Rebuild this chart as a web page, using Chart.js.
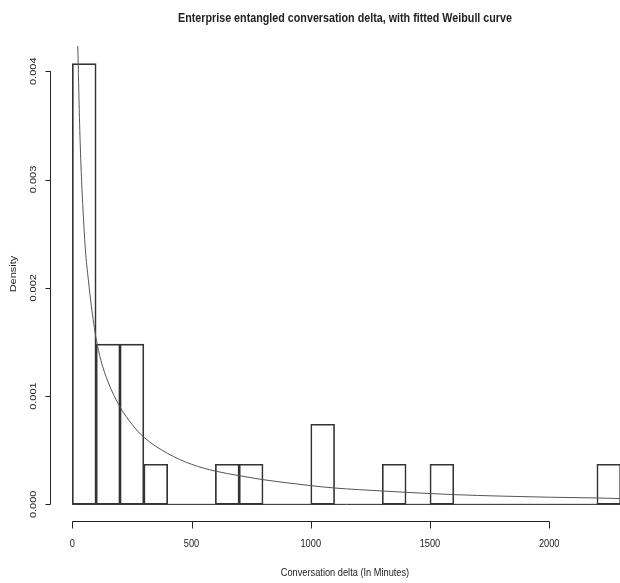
<!DOCTYPE html>
<html>
<head>
<meta charset="utf-8">
<script src="https://cdn.jsdelivr.net/npm/chart.js@4"></script>
<style>
  html, body { margin: 0; padding: 0; background: #fff; }
  canvas { display: block; }
</style>
</head>
<body>
<canvas id="histChart" width="620" height="583"></canvas>
<script>
// Histogram bins (minutes) and densities
const binEdges = [0, 100, 200, 300, 400, 500, 600, 700, 800, 900, 1000, 1100,
                  1200, 1300, 1400, 1500, 1600, 1700, 1800, 1900, 2000, 2100, 2200, 2300];
const densities = [0.00407, 0.00148, 0.00148, 0.00037, 0, 0, 0.00037, 0.00037, 0, 0,
                   0.00074, 0, 0, 0.00037, 0, 0.00037, 0, 0, 0, 0, 0, 0, 0.00037];

// Fitted Weibull curve
const curveX = [23, 30, 36, 42, 55, 67, 80, 90, 100, 120, 150, 200, 250, 300, 400, 500,
                600, 700, 800, 1000, 1100, 1200, 1400, 1600, 1800, 2000, 2200, 2310];
const curveY = [0.00424, 0.00357, 0.00315, 0.00285, 0.00235, 0.00208, 0.00183, 0.00167,
                0.00153, 0.00133, 0.00113, 0.00090, 0.00074, 0.00062, 0.00047, 0.00037,
                0.000307, 0.000265, 0.000228, 0.000173, 0.000151, 0.000136, 0.000111,
                0.00009, 0.000076, 0.000066, 0.000059, 0.000053];

// Tick labels
const xTicks = [0, 500, 1000, 1500, 2000];
const yTicks = [0, 0.001, 0.002, 0.003, 0.004];
const yTickLabels = ['0.000', '0.001', '0.002', '0.003', '0.004'];

const titleText = 'Enterprise entangled conversation delta, with fitted Weibull curve';
const xTitle = 'Conversation delta (In Minutes)';
const yTitle = 'Density';

const ink = '#222';
const squeeze = 0.84;

const barData = densities.map((d, i) => ({ x: (binEdges[i] + binEdges[i + 1]) / 2, y: d }));
const baseData = [{ x: binEdges[0], y: 0 }, { x: binEdges[binEdges.length - 1], y: 0 }];
const curveData = curveX.map((x, i) => ({ x: x, y: curveY[i] }));

// Draw text squeezed horizontally
function squeezedText(ctx, text, x, y, factor, rotate) {
    ctx.save();
    ctx.translate(x, y);
    ctx.scale(factor, 1);
    if (rotate) ctx.rotate(-Math.PI / 2);
    ctx.fillText(text, 0, 0);
    ctx.restore();
}

// R-style axes and labels
const rAxes = {
    id: 'rAxes',
    afterDraw(chart) {
        const ctx = chart.ctx;
        const xs = chart.scales.x;
        const ys = chart.scales.y;
        const area = chart.chartArea;
        ctx.save();
        ctx.strokeStyle = ink;
        ctx.fillStyle = ink;
        ctx.lineWidth = 1;

        // y axis
        const ax = Math.round(area.left) - 0.5;
        const y0 = ys.getPixelForValue(yTicks[0]);
        const y1 = ys.getPixelForValue(yTicks[yTicks.length - 1]);
        ctx.beginPath();
        ctx.moveTo(ax, y0);
        ctx.lineTo(ax, y1);
        yTicks.forEach(v => {
            const p = Math.round(ys.getPixelForValue(v)) + 0.5;
            ctx.moveTo(ax, p);
            ctx.lineTo(ax - 5, p);
        });
        ctx.stroke();

        ctx.font = '11px "Liberation Sans", Arial, sans-serif';
        ctx.textAlign = 'center';
        ctx.textBaseline = 'middle';
        yTicks.forEach((v, i) => {
            squeezedText(ctx, yTickLabels[i], 33, ys.getPixelForValue(v), squeeze, true);
        });

        // x axis
        const ay = Math.round(area.bottom) - 0.5;
        const x0 = xs.getPixelForValue(xTicks[0]);
        const x1 = xs.getPixelForValue(xTicks[xTicks.length - 1]);
        ctx.beginPath();
        ctx.moveTo(x0, ay);
        ctx.lineTo(x1, ay);
        xTicks.forEach(v => {
            const p = Math.round(xs.getPixelForValue(v)) + 0.5;
            ctx.moveTo(p, ay);
            ctx.lineTo(p, ay + 7);
        });
        ctx.stroke();

        xTicks.forEach(v => {
            squeezedText(ctx, String(v), xs.getPixelForValue(v), 544, squeeze, false);
        });

        // axis titles
        squeezedText(ctx, xTitle, 345, 573, squeeze, false);
        squeezedText(ctx, yTitle, 13, 274, squeeze, true);

        // main title
        ctx.font = 'bold 13px "Liberation Sans", Arial, sans-serif';
        const w = ctx.measureText(titleText).width;
        squeezedText(ctx, titleText, 345, 18, 334 / w, false);
        ctx.restore();
    }
};

const ctx = document.getElementById('histChart').getContext('2d');
new Chart(ctx, {
    type: 'bar',
    data: {
        datasets: [{
            type: 'line',
            data: curveData,
            borderColor: '#555',
            borderWidth: 1,
            pointRadius: 0,
            cubicInterpolationMode: 'monotone',
            order: 0
        }, {
            type: 'bar',
            data: barData,
            backgroundColor: 'rgba(0,0,0,0)',
            borderColor: '#333',
            borderWidth: 1,
            borderSkipped: false,
            barPercentage: 1,
            categoryPercentage: 1,
            order: 1
        }, {
            type: 'line',
            data: baseData,
            borderColor: ink,
            borderWidth: 1,
            pointRadius: 0,
            order: 2
        }]
    },
    options: {
        responsive: false,
        animation: false,
        devicePixelRatio: 1,
        layout: { padding: { left: 50.5, right: 0, top: 46, bottom: 61 } },
        plugins: {
            legend: { display: false },
            tooltip: { enabled: false }
        },
        scales: {
            x: {
                type: 'linear',
                display: false,
                offset: false,
                min: -91.4,
                max: 2297,
                ticks: { stepSize: 500, includeBounds: false }
            },
            y: {
                type: 'linear',
                display: false,
                min: -0.000163,
                max: 0.004233,
                ticks: { includeBounds: false }
            }
        }
    },
    plugins: [rAxes]
});
</script>
</body>
</html>
